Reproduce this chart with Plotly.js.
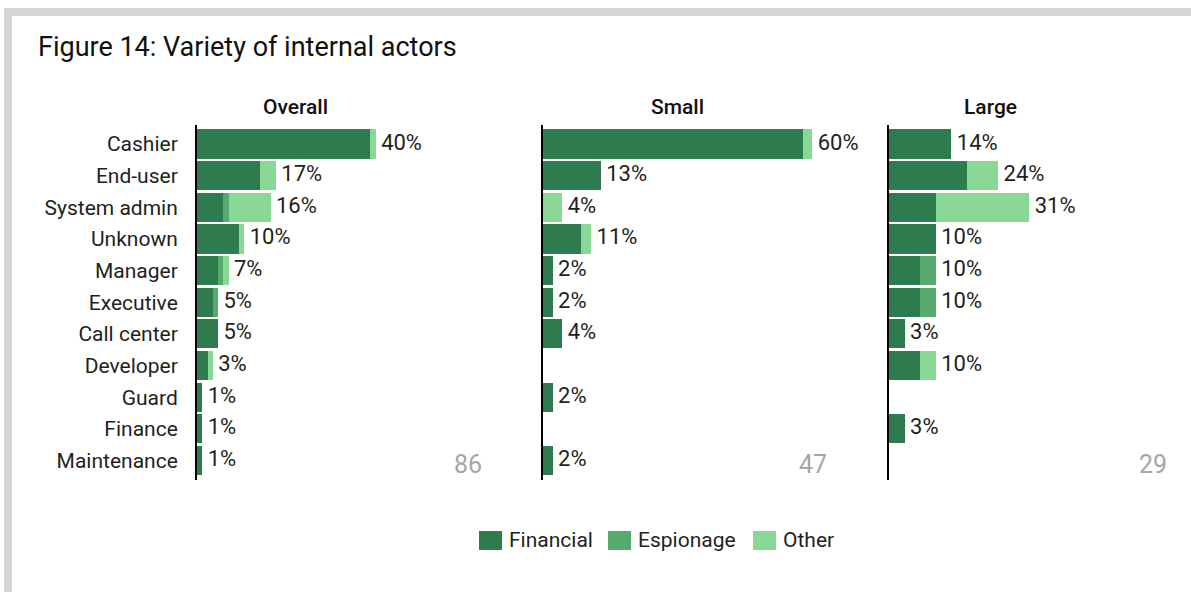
<!DOCTYPE html>
<html><head><meta charset="utf-8">
<script src="https://cdn.plot.ly/plotly-3.0.1.min.js"></script>
<style>html,body{margin:0;padding:0;background:#fff;}#chart{width:1191px;height:592px;}</style>
</head><body><div id="chart"></div>
<script>
const categories = ['Cashier','End-user','System admin','Unknown','Manager','Executive','Call center','Developer','Guard','Finance','Maintenance'];
const seriesNames = ['Financial','Espionage','Other'];
const overallFinancial = [38.37,13.95,5.81,9.30,4.65,3.49,4.65,2.33,1.16,1.16,1.16];
const overallEspionage = [0,0,1.16,0,1.16,1.16,0,0,0,0,0];
const overallOther     = [1.16,3.49,9.30,1.16,1.16,0,0,1.16,0,0,0];
const smallFinancial   = [57.45,12.77,0,8.51,2.13,2.13,4.26,0,2.13,0,2.13];
const smallEspionage   = [0,0,0,0,0,0,0,0,0,0,0];
const smallOther       = [2.13,0,4.26,2.13,0,0,0,0,0,0,0];
const largeFinancial   = [13.79,17.24,10.34,10.34,6.90,6.90,3.45,6.90,0,3.45,0];
const largeEspionage   = [0,0,0,0,3.45,3.45,0,0,0,0,0];
const largeOther       = [0,6.90,20.69,0,0,0,0,3.45,0,0,0];
const panelTitles = ['Overall','Small','Large'];
const sampleSizes = ['86','47','29'];
const chartTitle = 'Figure 14: Variety of internal actors';

const W = 1191, H = 592;
const FONT = 'Roboto, "Noto Sans", sans-serif';
const colors = ['#2e7b4e','#56aa6e','#89d896'];
const panels = [
  {series:[overallFinancial,overallEspionage,overallOther]},
  {series:[smallFinancial,smallEspionage,smallOther]},
  {series:[largeFinancial,largeEspionage,largeOther]}
];
const px = v => v / W;
const py = v => 1 - v / H;
const axisStarts = [197, 543, 889];
const pxPerUnit = 4.52;
const xMax = 65;
const yDom = [py(479.5), py(125)];

const data = [];
const layout = {
  width: W, height: H, margin:{l:0,r:0,t:0,b:0},
  paper_bgcolor:'#fff', plot_bgcolor:'rgba(0,0,0,0)',
  barmode:'stack', bargap:0.08, showlegend:false,
  font:{family:FONT, color:'#231f20'},
  shapes:[], annotations:[]
};

panels.forEach((p, i) => {
  const sfx = i === 0 ? '' : String(i+1);
  const xa = 'x' + sfx, ya = 'y' + sfx;
  p.series.forEach((vals, s) => {
    data.push({
      type:'bar', orientation:'h', name:seriesNames[s],
      y:categories, x:vals, xaxis:xa, yaxis:ya,
      marker:{color:colors[s], line:{width:0}},
      hoverinfo:'x+y+name'
    });
  });
  const totals = categories.map((c, k) => p.series.reduce((a, v) => a + v[k], 0));
  const ty = [], tx = [], tt = [];
  totals.forEach((t, k) => { if (t > 0) { ty.push(categories[k]); tx.push(t); tt.push(' ' + Math.round(t) + '%'); } });
  data.push({
    type:'scatter', mode:'text', x:tx, y:ty, text:tt, xaxis:xa, yaxis:ya,
    textposition:'middle right', textfont:{family:FONT, size:22, color:'#231f20'},
    hoverinfo:'skip', cliponaxis:false
  });
  const x0 = axisStarts[i];
  layout['xaxis' + sfx] = {
    domain:[px(x0), px(x0 + xMax*pxPerUnit)], range:[0, xMax], anchor:ya,
    showline:false, showgrid:false, zeroline:false, showticklabels:false, ticks:'', fixedrange:true
  };
  layout['yaxis' + sfx] = {
    domain:yDom, type:'category', categoryorder:'array', categoryarray:categories,
    range:[10.6, -0.6], anchor:xa, showgrid:false, zeroline:false,
    showline:true, linecolor:'#000', linewidth:2, ticks:'',
    showticklabels: i === 0, ticklabelstandoff:13, automargin:false,
    tickfont:{family:FONT, size:21, color:'#231f20'}, fixedrange:true
  };
});

// frame
layout.shapes.push({type:'rect', xref:'paper', yref:'paper', x0:px(4), x1:1, y0:py(16), y1:py(8), fillcolor:'#d4d5d7', line:{width:0}, layer:'below'});
layout.shapes.push({type:'rect', xref:'paper', yref:'paper', x0:px(4), x1:px(12), y0:0, y1:py(8), fillcolor:'#d4d5d7', line:{width:0}, layer:'below'});

// title
layout.annotations.push({text:chartTitle, xref:'paper', yref:'paper', x:px(36), y:py(47), xanchor:'left', yanchor:'middle', showarrow:false, font:{family:FONT, size:27, color:'#111'}});
// panel titles
const titleCenters = [295.5, 677, 990.5];
panelTitles.forEach((t, i) => layout.annotations.push({text:t, xref:'paper', yref:'paper', x:px(titleCenters[i]), y:py(107), xanchor:'center', yanchor:'middle', showarrow:false, font:{family:FONT, size:21, weight:500, color:'#111'}}));
// sample sizes
const nRight = [484, 829, 1169];
sampleSizes.forEach((t, i) => layout.annotations.push({text:t, xref:'paper', yref:'paper', x:px(nRight[i]), y:py(464), xanchor:'right', yanchor:'middle', showarrow:false, font:{family:FONT, size:25, color:'#a6a6a6'}}));
// legend
const legX = [479, 608, 753];
seriesNames.forEach((n, s) => {
  layout.shapes.push({type:'rect', xref:'paper', yref:'paper', x0:px(legX[s]), x1:px(legX[s]+23), y0:py(550), y1:py(531), fillcolor:colors[s], line:{width:0}});
  layout.annotations.push({text:n, xref:'paper', yref:'paper', x:px(legX[s]+28), y:py(540), xanchor:'left', yanchor:'middle', showarrow:false, font:{family:FONT, size:21, color:'#231f20'}});
});

Plotly.newPlot('chart', data, layout, {displayModeBar:false, staticPlot:true});
</script></body></html>
